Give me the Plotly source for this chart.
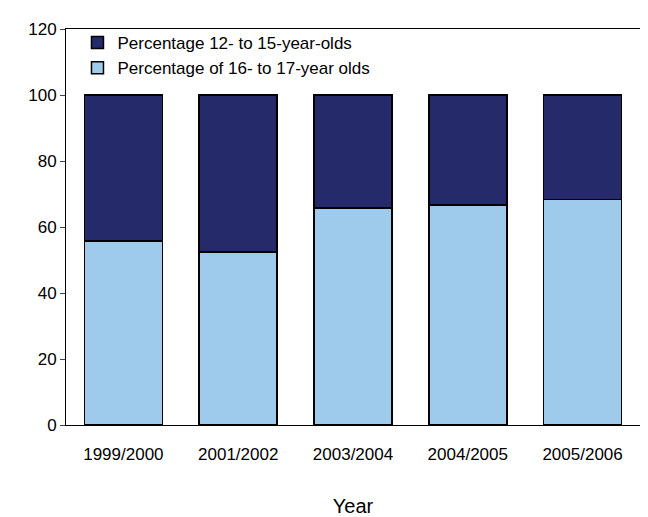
import plotly.graph_objects as go

years = ["1999/2000", "2001/2002", "2003/2004", "2004/2005", "2005/2006"]
pct_16_17 = [55.7, 52.5, 65.7, 66.6, 68.3]
pct_12_15 = [100 - v for v in pct_16_17]

fig = go.Figure()
fig.add_bar(x=years, y=pct_16_17, name="Percentage of 16- to 17-year olds",
            marker=dict(color="#9ecbeb", line=dict(color="black", width=1.5)))
fig.add_bar(x=years, y=pct_12_15, name="Percentage 12- to 15-year-olds",
            marker=dict(color="#252a6b", line=dict(color="black", width=1.5)))
fig.update_layout(
    barmode="stack", bargap=0.32, width=648, height=517,
    paper_bgcolor="white", plot_bgcolor="white",
    margin=dict(l=58, r=16, t=12, b=97),
    font=dict(family="Liberation Sans, Arial", size=17, color="black"),
    legend=dict(x=0.02, y=1.01, xanchor="left", yanchor="top", traceorder="reversed",
                bgcolor="rgba(0,0,0,0)", font=dict(size=17), itemwidth=30, tracegroupgap=0),
    xaxis=dict(title=dict(text="Year", standoff=35), showline=True, linecolor="black", linewidth=1,
               mirror=True, ticks="outside", ticklen=14, tickcolor="white"),
    yaxis=dict(range=[0, 120], dtick=20, showline=True, linecolor="black", linewidth=1,
               mirror=True, ticks="outside", ticklen=5, showgrid=False, zeroline=False),
)
fig.write_html("out.html")
